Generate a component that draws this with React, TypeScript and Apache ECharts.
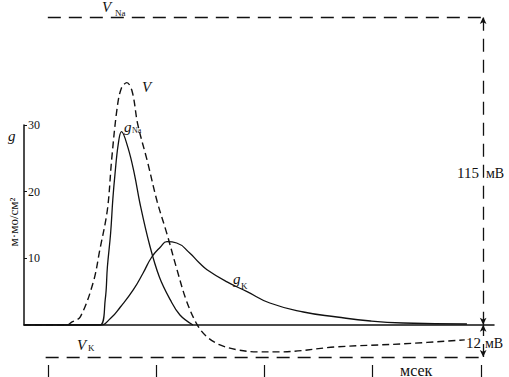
import React, { useEffect, useRef } from "react";
import * as echarts from "echarts";

// Membrane potential V (mV above rest) vs time (ms)
const vTimes = [-0.22, 0.18, 0.22, 0.3, 0.42, 0.48, 0.55, 0.59, 0.64, 0.68, 0.73, 0.78, 0.83, 0.92, 1.01, 1.1, 1.19, 1.28, 1.38, 1.47, 1.59, 1.75, 1.93, 2.14, 2.67, 3.28, 3.85];
const vValues = [0, 0, 1, 3, 16, 28, 43, 62, 81, 88.5, 90.5, 87, 75, 61, 46, 34, 21, 9, 0, -4.5, -7.5, -9.3, -10.1, -10.1, -8.2, -7.1, -5.6];

// Sodium conductance g_Na (mmho/cm^2)
const gNaTimes = [-0.22, 0.48, 0.53, 0.55, 0.58, 0.6, 0.62, 0.65, 0.68, 0.74, 0.8, 0.85, 0.94, 1.03, 1.13, 1.22, 1.34];
const gNaValues = [0, 0, 3.8, 8.7, 13.8, 18.8, 22.6, 27.1, 29, 26.6, 22.6, 18.3, 12, 7.2, 3.8, 1.5, 0];

// Potassium conductance g_K (mmho/cm^2)
const gKTimes = [-0.22, 0.48, 0.58, 0.67, 0.79, 0.88, 0.96, 1.04, 1.1, 1.19, 1.31, 1.4, 1.47, 1.65, 1.84, 2.05, 2.36, 2.67, 2.98, 3.28, 3.87];
const gKValues = [0, 0, 1.0, 2.7, 5.3, 7.8, 10.2, 11.7, 12.5, 12.3, 10.8, 9.3, 8.3, 6.5, 5.0, 3.3, 1.95, 1.2, 0.6, 0.3, 0.15];

const timeTicks = [0, 1, 2, 3, 4];
const gTicks = [10, 20, 30];
const vNa = 115;
const vK = -12;
const scaleTime = 4.02;

const SERIF = "serif";
const INK = "#111";

function txt(text: string, x: number, y: number, size: number, opts: any = {}) {
  return {
    type: "text",
    x,
    y,
    rotation: opts.rotation || 0,
    style: {
      text,
      fontFamily: SERIF,
      fontSize: size,
      fontStyle: opts.italic ? "italic" : "normal",
      fill: INK,
      textAlign: opts.align || "left",
      textVerticalAlign: "middle",
    },
  };
}

export default function App() {
  const ref = useRef<HTMLDivElement>(null);
  useEffect(() => {
    document.body.style.margin = "0";
    if (!ref.current) return;
    const chart = echarts.init(ref.current, undefined, { renderer: "svg" });
    const dashedV = { type: [13, 8], color: INK, width: 1.3 };
    chart.setOption({
      animation: false,
      textStyle: { fontFamily: SERIF },
      grid: [
        { left: 24, right: 15, top: 17, bottom: 20 },
        { left: 24, right: 15, top: 125, bottom: 52 },
      ],
      xAxis: [
        {
          gridIndex: 0,
          type: "value",
          min: -0.22,
          max: 4.12,
          offset: 8,
          position: "bottom",
          axisLine: { show: false, onZero: false },
          axisTick: { show: true, customValues: timeTicks, length: 12, lineStyle: { color: INK, width: 1.2 } },
          axisLabel: { show: false },
          splitLine: { show: false },
        },
        {
          gridIndex: 1,
          type: "value",
          min: -0.22,
          max: 4.12,
          axisLine: { show: true, onZero: false, lineStyle: { color: INK, width: 1.5 } },
          axisTick: { show: false },
          axisLabel: { show: false },
          splitLine: { show: false },
        },
      ],
      yAxis: [
        { gridIndex: 0, type: "value", min: vK, max: vNa, show: false },
        {
          gridIndex: 1,
          type: "value",
          min: 0,
          max: 30,
          axisLine: { show: true, onZero: false, lineStyle: { color: INK, width: 1.5 } },
          axisTick: { show: true, inside: true, length: 3, customValues: gTicks, lineStyle: { color: INK, width: 1 } },
          axisLabel: {
            inside: true,
            margin: 4,
            customValues: gTicks,
            fontFamily: SERIF,
            fontSize: 12,
            color: INK,
          },
          splitLine: { show: false },
        },
      ],
      series: [
        {
          type: "line",
          xAxisIndex: 0,
          yAxisIndex: 0,
          data: vTimes.map((t, i) => [t, vValues[i]]),
          smooth: 0.35,
          showSymbol: false,
          lineStyle: { color: INK, width: 1.4, type: [7, 4] },
          silent: true,
          markLine: {
            silent: true,
            symbol: "none",
            label: { show: false },
            lineStyle: dashedV,
            data: [
              [{ coord: [0, vNa] }, { coord: [scaleTime, vNa] }],
              [{ coord: [-0.02, vK] }, { coord: [scaleTime, vK] }],
              [
                { coord: [scaleTime, 0], symbol: "arrow", symbolSize: [5, 7] },
                { coord: [scaleTime, vNa], symbol: "arrow", symbolSize: [5, 7] },
              ],
              [
                { coord: [scaleTime, vK], symbol: "arrow", symbolSize: [5, 7] },
                { coord: [scaleTime, 0], symbol: "arrow", symbolSize: [5, 7] },
              ],
            ],
          },
        },
        {
          type: "line",
          xAxisIndex: 1,
          yAxisIndex: 1,
          data: gNaTimes.map((t, i) => [t, gNaValues[i]]),
          smooth: 0.4,
          showSymbol: false,
          lineStyle: { color: INK, width: 1.3 },
          silent: true,
        },
        {
          type: "line",
          xAxisIndex: 1,
          yAxisIndex: 1,
          data: gKTimes.map((t, i) => [t, gKValues[i]]),
          smooth: 0.5,
          showSymbol: false,
          lineStyle: { color: INK, width: 1.3 },
          silent: true,
        },
      ],
      graphic: [
        txt("V", 102, 7, 15, { italic: true }),
        txt("Na", 115, 13, 9),
        txt("V", 142, 87, 15, { italic: true }),
        txt("g", 124, 126.5, 15, { italic: true }),
        txt("Na", 132, 130, 8),
        txt("g", 233, 279, 15, { italic: true }),
        txt("K", 241, 285.5, 9),
        txt("V", 77, 345, 15, { italic: true }),
        txt("K", 88, 348, 9),
        txt("g", 8, 136, 15, { italic: true }),
        txt("м·мо/см²", 13, 222, 13, { align: "center", rotation: Math.PI / 2 }),
        txt("115", 479, 173, 15, { align: "right" }),
        txt("мВ", 486, 173, 14),
        txt("12", 481, 343, 15, { align: "right" }),
        txt("мВ", 485, 343, 14),
        txt("мсек", 400, 370, 16),
      ],
    });
    return () => chart.dispose();
  }, []);
  return <div ref={ref} style={{ width: 509, height: 377 }} />;
}
